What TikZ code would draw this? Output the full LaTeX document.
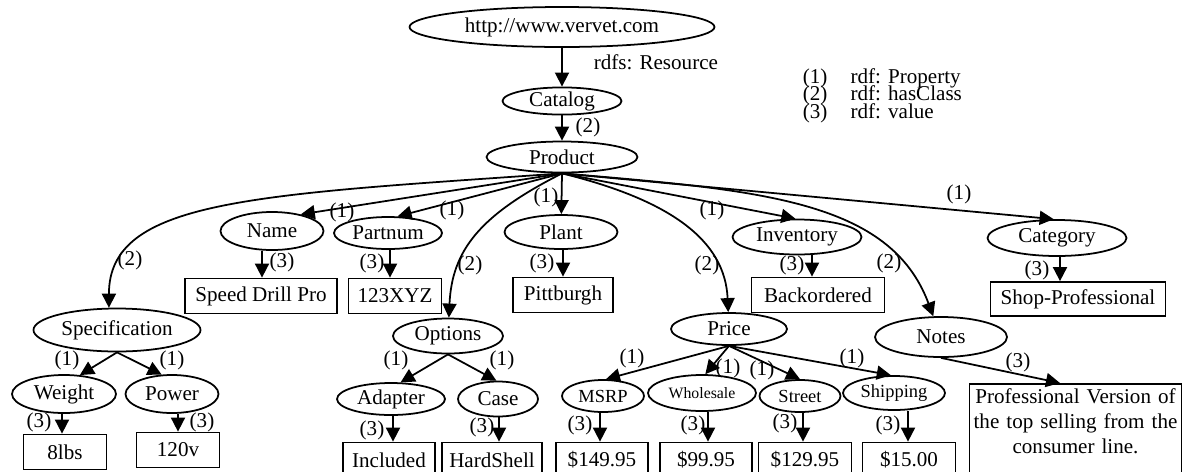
\documentclass[tikz,border=0pt]{standalone}
\usepackage{fontspec}
\setmainfont{Liberation Serif}
\usetikzlibrary{shapes.geometric,arrows.meta}
\begin{document}
\begin{tikzpicture}[x=0.02cm, y=-0.02cm, line width=1pt,
  font=\fontsize{12}{14}\selectfont,
  wh/.style 2 args={minimum width=#1*0.02cm, minimum height=#2*0.02cm},
  cls/.style={ellipse, draw, inner sep=0pt},
  val/.style={rectangle, draw, inner sep=0pt},
  lbl/.style={inner sep=0pt},
  small/.style={font=\fontsize{10.5}{12}\selectfont},
  arr/.style={-{Triangle[length=8pt,width=8pt]}}]
\useasboundingbox (0,0) rectangle (1183,471);
\node[cls, wh={305}{40}] (web) at (562,27) {http://www.vervet.com};
\node[cls, wh={119}{27}] (cat) at (562,101) {Catalog};
\node[cls, wh={151}{31}] (prod) at (562,157) {Product};
\node[cls, wh={103}{38}] (name) at (272,231) {Name};
\node[cls, wh={108}{32}] (pnum) at (388,233) {Partnum};
\node[cls, wh={113}{34}] (plant) at (561,232) {Plant};
\node[cls, wh={129}{35}] (inv) at (797,237) {Inventory};
\node[cls, wh={139}{36}] (categ) at (1057,238) {Category};
\node[cls, wh={167}{43}] (spec) at (117,330) {Specification};
\node[cls, wh={110}{35}] (opt) at (448,336) {Options};
\node[cls, wh={116}{32}] (price) at (729,329) {Price};
\node[cls, wh={132}{40}] (notes) at (941,337) {Notes};
\node[val, wh={152}{35}] (sdp) at (261,296) {Speed Drill Pro};
\node[val, wh={93}{35}] (xyz) at (395,296) {123XYZ};
\node[val, wh={100}{35}] (pitt) at (563,295) {Pittburgh};
\node[val, wh={133}{35}] (back) at (818,295) {Backordered};
\node[val, wh={175}{34}] (shop) at (1078,299) {Shop-Professional};
\node[cls, wh={104}{38}] (weight) at (64,394) {Weight};
\node[cls, wh={93}{38}] (power) at (172,394) {Power};
\node[cls, wh={108}{32}] (adapt) at (391,399) {Adapter};
\node[cls, wh={80}{35}] (case) at (498,399) {Case};
\node[cls, small, wh={82}{32}] (msrp) at (603,396) {MSRP};
\node[cls, wh={108}{36}, font=\fontsize{9}{11}\selectfont] (whole) at (702,393) {Wholesale};
\node[cls, small, wh={81}{32}] (street) at (800,396) {Street};
\node[cls, small, wh={102}{34}] (ship) at (894,393) {Shipping};
\node[val, wh={83}{35}] (lbs) at (65,452) {8lbs};
\node[val, wh={83}{35}] (volt) at (178,450) {120v};
\node[val, wh={92}{35}] (incl) at (389,460) {Included};
\node[val, wh={100}{35}] (hard) at (492,460) {HardShell};
\node[val, wh={92}{35}] (p1) at (602,460) {\$149.95};
\node[val, wh={92}{35}] (p2) at (706,460) {\$99.95};
\node[val, wh={93}{35}] (p3) at (805,460) {\$129.95};
\node[val, wh={93}{35}] (p4) at (909,460) {\$15.00};
\node[val, anchor=north, align=center, text width=205*0.02cm, inner xsep=2pt, inner ysep=2.5pt,
  text depth=1.8cm, font=\fontsize{12}{14.2}\selectfont] (nbox) at (1075.5,383)
  {Professional Version of\\the top selling from the\\consumer line.};
\draw[arr] (web) -- (cat);
\node[lbl, anchor=west] (rdfs) at (593,62) {rdfs: Resource};
\draw[arr] (cat) -- (prod);
\node[lbl] (lprod) at (588,127) {(2)};
\draw[arr] (prod.south) -- (name.30);
\draw[arr] (prod.south) -- (pnum.60);
\draw[arr] (prod.south) -- (plant);
\draw[arr] (prod.south) -- (inv.95);
\draw[arr] (prod.south) -- (categ.100);
\draw[arr] (prod.south) .. controls (250,195) and (109,200) .. (spec.110);
\draw[arr] (prod.south) .. controls (480,215) and (452,250) .. (opt);
\draw[arr] (prod.south) .. controls (670,200) and (725,240) .. (price);
\draw[arr] (prod.south) .. controls (760,190) and (890,200) .. (notes);
\node[lbl] (lname) at (342,212) {(1)};
\node[lbl] (lpnum) at (452,210) {(1)};
\node[lbl] (lplant) at (546,197) {(1)};
\node[lbl] (linv) at (712,210) {(1)};
\node[lbl] (lcateg) at (959,194) {(1)};
\node[lbl] (lspec) at (130,260) {(2)};
\node[lbl] (lopt) at (470,265) {(2)};
\node[lbl] (lprice) at (707,265) {(2)};
\node[lbl] (lnotes) at (889,263) {(2)};
\foreach \a/\b in {spec/weight.50, spec/power.118, opt/adapt.60, opt/case.95, price/msrp.80, price/whole.80, price/street.north, price/ship.100}
  \draw[arr] (\a.south) -- (\b);
\foreach \b/\lx/\ly in {weight/67/360, power/172/360, adapt/396/360, case/502/360, msrp/632/358, whole/728/368, street/762/370, ship/852/358}
  \node[lbl] (l\b) at (\lx,\ly) {(1)};
\foreach \a/\b/\ax/\lx/\ly in {name/sdp/262/282/262, pnum/xyz/390/372/263, plant/pitt/563/542/263, inv/back/812/792/265, categ/shop/1060/1037/270, weight/lbs/62/39/422, power/volt/178/202/422, adapt/incl/393/372/430, case/hard/499/482/427, msrp/p1/600/580/425, whole/p2/708/693/425, street/p3/803/785/423, ship/p4/908/888/425}
{
  \draw[arr] (\a.south -| \ax,0) -- (\b.north -| \ax,0);
  \node[lbl] (l\b) at (\lx,\ly) {(3)};
}
\draw[arr] (notes.south) -- (nbox.north -| 1060,0);
\node[lbl] (lnbox) at (1018,362) {(3)};
\foreach \t [count=\i] in {Property,hasClass,value}
  \node[lbl, anchor=base west] (key\i) at (802,{65.5+17.5*\i}) {(\i)\hspace{1.1em}rdf: \t};
\end{tikzpicture}
\end{document}
